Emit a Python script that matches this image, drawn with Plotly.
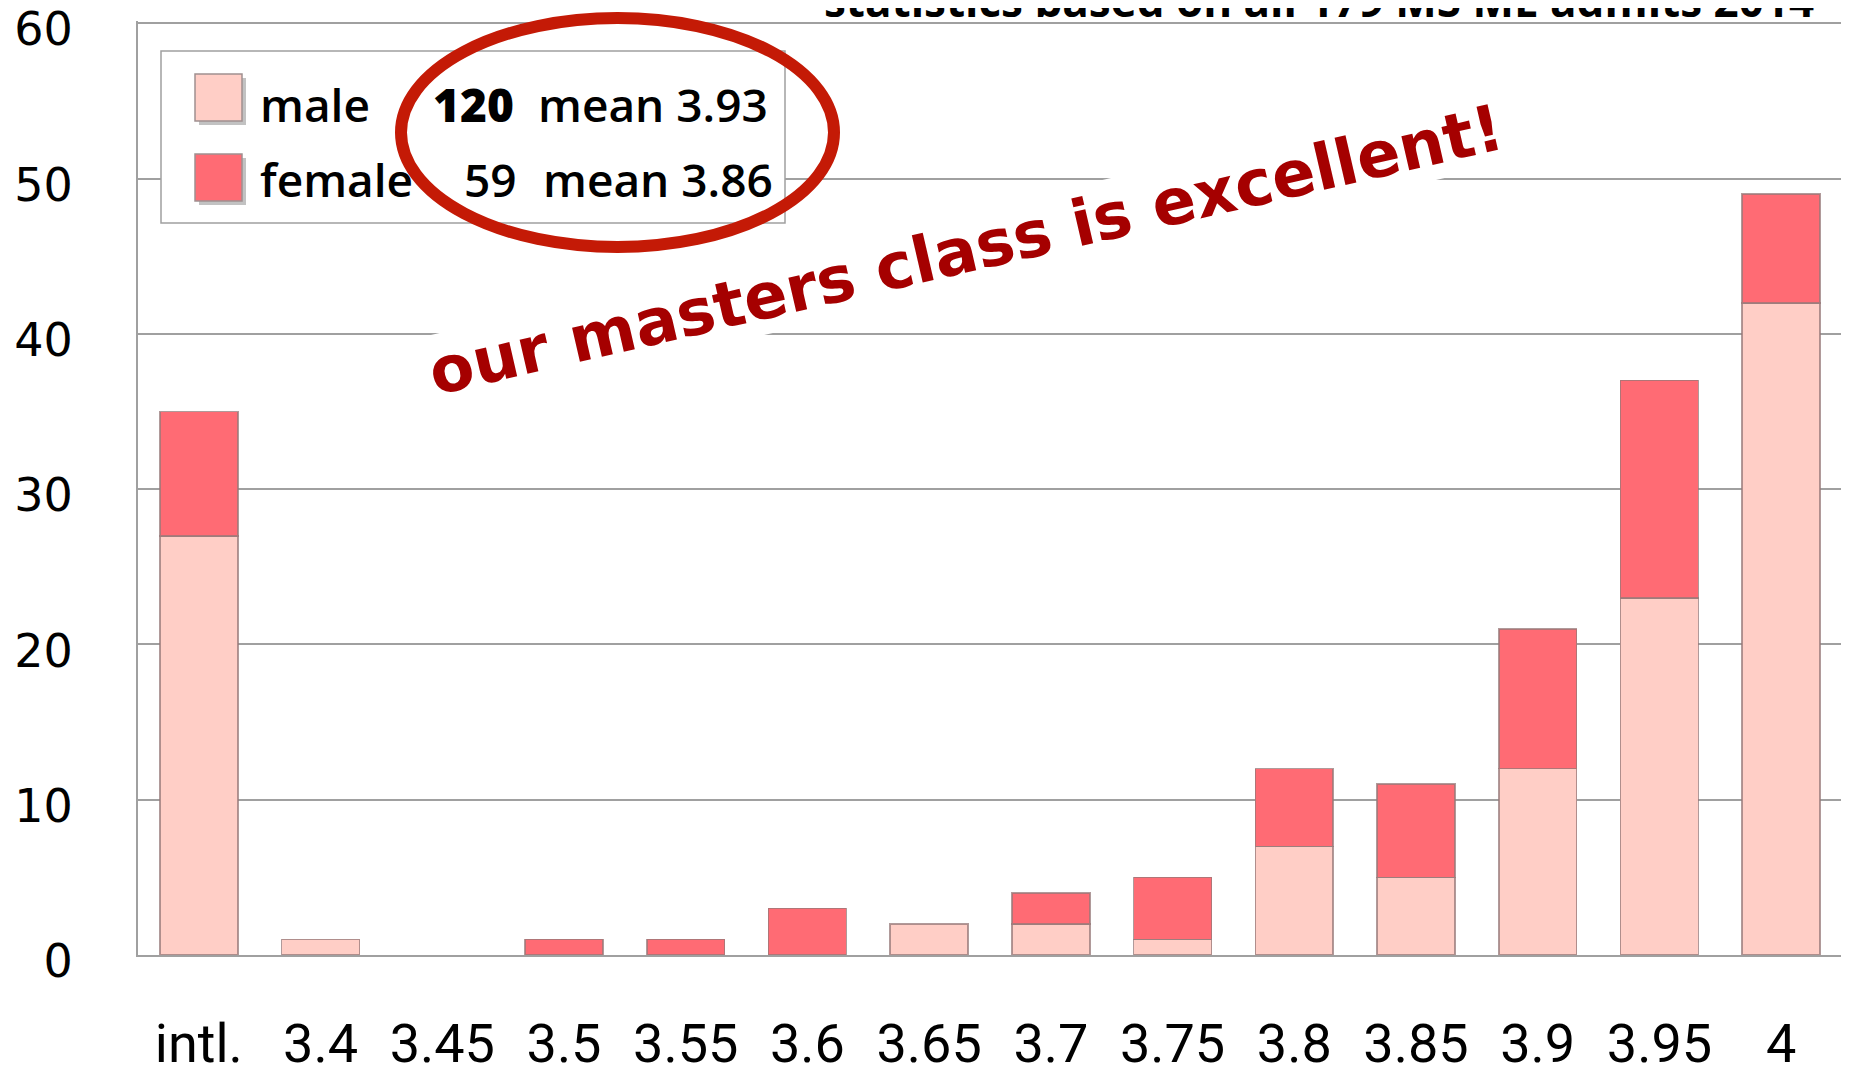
import plotly.graph_objects as go

# ---- data ----
categories = ["intl.", "3.4", "3.45", "3.5", "3.55", "3.6", "3.65", "3.7",
              "3.75", "3.8", "3.85", "3.9", "3.95", "4"]
male = [27, 1, 0, 0, 0, 0, 2, 2, 1, 7, 5, 12, 23, 42]
female = [8, 0, 0, 1, 1, 3, 0, 2, 4, 5, 6, 9, 14, 7]
y_ticks = [0, 10, 20, 30, 40, 50, 60]

legend_rows = [("male", "120", "mean 3.93"), ("female", "59", "mean 3.86")]
title_text = "statistics based on all 179 MS ME admits 2014"
note_text = "our masters class is excellent!"

# the page places the plot div 8px from the window's top-left corner
OFF = 8
WIN_W, WIN_H = 1849, 1075
W, H = WIN_W - OFF, WIN_H - OFF
ML, MR, MT, MB = 130, 7, 13, 120
PW, PH = W - ML - MR, H - MT - MB
Y_MAX = 60.15


def px(x):  # window pixel -> paper x
    return (x - OFF - ML) / PW


def py(y):  # window pixel -> paper y
    return (OFF + MT + PH - y) / PH


MALE_C = "#FFCEC6"
FEMALE_C = "#FF6B74"
EDGE = "rgba(150,120,120,0.75)"
GRID = "#A0A0A0"


def nz(v):
    return [None if a == 0 else a for a in v]


fig = go.Figure()
fig.add_trace(go.Bar(x=categories, y=nz(male), name="male", width=0.64,
                     marker=dict(color=MALE_C, line=dict(color=EDGE, width=1.5))))
fig.add_trace(go.Bar(x=categories, y=nz(female), name="female", width=0.64,
                     marker=dict(color=FEMALE_C, line=dict(color=EDGE, width=1.5))))

shapes = []
# top gridline (at the top edge of the plot)
shapes.append(dict(type="line", xref="paper", yref="y", x0=0, x1=1,
                   y0=y_ticks[-1], y1=y_ticks[-1],
                   line=dict(color=GRID, width=1.5), layer="below"))
# legend box
shapes.append(dict(type="rect", xref="paper", yref="paper",
                   x0=px(161), x1=px(785), y0=py(223), y1=py(51),
                   fillcolor="white", line=dict(color=GRID, width=1.5), layer="above"))
# swatches with shadows
for (y0, col) in [(74, MALE_C), (154, FEMALE_C)]:
    shapes.append(dict(type="rect", xref="paper", yref="paper",
                       x0=px(199), x1=px(246), y0=py(y0 + 51), y1=py(y0 + 4),
                       fillcolor="rgba(120,120,120,0.45)", line=dict(width=0), layer="above"))
    shapes.append(dict(type="rect", xref="paper", yref="paper",
                       x0=px(195), x1=px(242), y0=py(y0 + 47), y1=py(y0),
                       fillcolor=col, line=dict(color="#A09090", width=1.5), layer="above"))

annotations = []
for i, (lab, n, mean) in enumerate(legend_rows):
    yc = 104 + i * 75
    annotations.append(dict(text=lab, xref="paper", yref="paper", x=px(258), y=py(yc),
                            xanchor="left", yanchor="middle", showarrow=False,
                            font=dict(family="Open Sans", size=46, color="black", weight=600)))
    annotations.append(dict(text=n, xref="paper", yref="paper",
                            x=px(516 if i == 0 else 519), y=py(yc),
                            xanchor="right", yanchor="middle", showarrow=False,
                            font=dict(family="Open Sans", size=46, color="black",
                                      weight=800 if i == 0 else 600)))
    annotations.append(dict(text=mean, xref="paper", yref="paper",
                            x=px(770 if i == 0 else 775), y=py(yc),
                            xanchor="right", yanchor="middle", showarrow=False,
                            font=dict(family="Open Sans", size=46, color="black", weight=600)))

# red ellipse
shapes.append(dict(type="circle", xref="paper", yref="paper",
                   x0=px(401), x1=px(834), y0=py(247), y1=py(18),
                   line=dict(color="#C41A06", width=12), layer="above"))

# handwritten note
annotations.append(dict(text=note_text, xref="paper", yref="paper",
                        x=px(966), y=py(250), xanchor="center", yanchor="middle",
                        textangle=-13, showarrow=False, bgcolor="white", borderpad=0,
                        font=dict(family="DejaVu Sans", size=64, color="#A50000", weight="bold")))

# title (cut off at top, as in the original slide)
annotations.append(dict(text=title_text, xref="paper", yref="paper",
                        x=px(822), y=py(0), xanchor="left", yanchor="middle",
                        showarrow=False,
                        font=dict(family="Open Sans", size=44, color="black", weight="bold")))

fig.update_layout(
    width=W, height=H, autosize=False,
    margin=dict(l=ML, r=MR, t=MT, b=MB, pad=0, autoexpand=False),
    barmode="stack", bargap=0.36,
    paper_bgcolor="white", plot_bgcolor="white",
    showlegend=False,
    shapes=shapes, annotations=annotations,
    xaxis=dict(type="category", categoryorder="array", categoryarray=categories,
               range=[-0.5, 13.5], showline=True, linecolor=GRID, linewidth=2,
               showgrid=False, ticks="", ticklabelstandoff=40, automargin=False,
               tickfont=dict(family="Roboto", size=54, color="black")),
    yaxis=dict(range=[0, Y_MAX], tickvals=y_ticks, showline=True, linecolor=GRID,
               linewidth=2, showgrid=True, gridcolor=GRID, gridwidth=1.5,
               zeroline=False, ticks="", ticklabelstandoff=54, automargin=False,
               ticklabeloverflow="allow", ticklabelshift=6,
               tickfont=dict(family="DejaVu Sans", size=46, color="black")),
)

fig.write_html("out.html")
